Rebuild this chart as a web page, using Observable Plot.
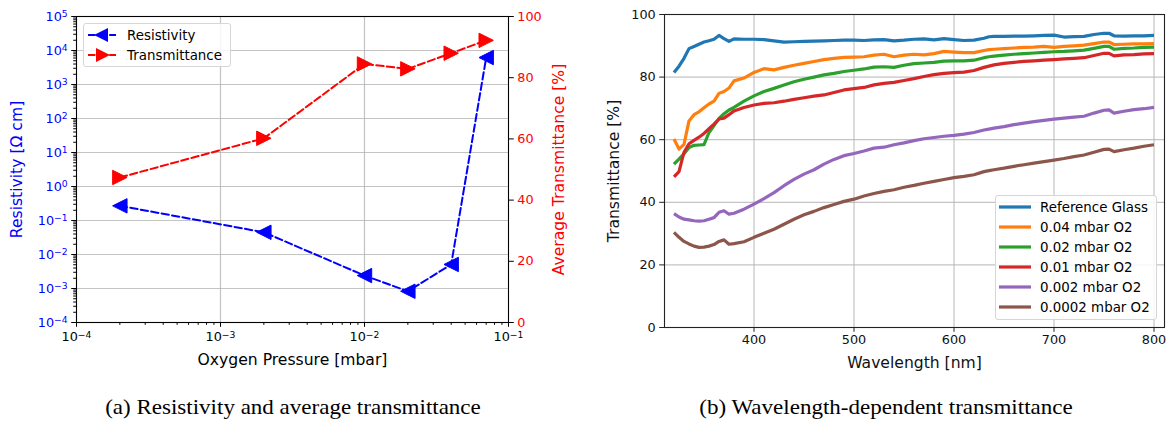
<!DOCTYPE html>
<html>
<head>
<meta charset="utf-8">
<script src="https://cdn.jsdelivr.net/npm/d3@7"></script>
<script src="https://cdn.jsdelivr.net/npm/@observablehq/plot@0.6"></script>
<style>
  html, body { margin: 0; padding: 0; background: #fff; }
  body { width: 1174px; height: 432px; overflow: hidden; font-family: "DejaVu Sans", sans-serif; }
  #root { position: relative; width: 1174px; height: 432px; }
  .layer { position: absolute; top: 0; }
  .layer svg { overflow: visible; }
  [aria-label="x-axis label"], [aria-label="y-axis label"] { font-size: 15.6px; }
  .legend {
    position: absolute; box-sizing: border-box;
    background: rgba(255,255,255,0.85); border: 1px solid #d6d6d6; border-radius: 3px;
    font-size: 13.4px; color: #000;
  }
  .legend .row { position: absolute; left: 0; height: 20px; display: flex; align-items: center; white-space: nowrap; }
  .legend svg { display: block; }
  .caption {
    position: absolute; top: 395px; transform: translateX(-50%) scaleX(1.07); transform-origin: 50% 50%;
    font-family: "Liberation Serif", "DejaVu Serif", serif; font-size: 21.5px; color: #000; white-space: nowrap;
  }
</style>
</head>
<body>
<div id="root"></div>
<script>
// ---- Panel (a): resistivity and average transmittance vs oxygen pressure ----
const pressure = [0.0002, 0.002, 0.01, 0.02, 0.04, 0.07];          // mbar
const resistivity = [0.27, 0.045, 0.0024, 0.00083, 0.0051, 6200];   // Ω cm
const avgTransmittance = [47.4, 60.2, 84.5, 82.9, 88.0, 92.2];      // %

const xDecades = [1e-4, 1e-3, 1e-2, 1e-1];
const yDecades = [1e-4, 1e-3, 1e-2, 1e-1, 1e0, 1e1, 1e2, 1e3, 1e4, 1e5];
const rightTicks = [0, 20, 40, 60, 80, 100];

// ---- Panel (b): wavelength-dependent transmittance ----
const wavelength = [320, 325, 330, 335, 340, 345, 350, 355, 360, 365, 370, 375, 380, 390, 400,
  410, 420, 430, 440, 450, 460, 470, 480, 490, 500, 510, 520, 530, 540, 550, 560, 570, 580, 590,
  600, 610, 620, 630, 635, 640, 650, 660, 670, 680, 690, 700, 710, 720, 730, 740, 750, 755, 760,
  770, 780, 790, 800];
const referenceGlass = [81.5, 83.5, 86.0, 89.1, 89.8, 90.5, 91.2, 91.6, 92.1, 93.3, 92.3, 91.4, 92.2, 92.1, 92.1,
  92.0, 91.6, 91.2, 91.3, 91.4, 91.5, 91.6, 91.7, 91.8, 91.8, 91.7, 91.9, 92.0, 91.6, 91.8, 92.1, 92.2, 91.9, 92.3,
  92.0, 91.7, 91.8, 92.4, 92.9, 93.0, 93.0, 93.1, 93.1, 93.2, 93.3, 93.4, 92.8, 92.9, 93.0, 93.6, 94.0, 94.0, 93.2,
  93.1, 93.2, 93.2, 93.3];
const o2_004 = [60.2, 57.0, 58.5, 66.0, 68.0, 68.9, 70.2, 71.4, 72.3, 74.8, 75.4, 76.5, 78.8, 79.7, 81.5,
  82.7, 82.3, 83.1, 83.8, 84.4, 85.0, 85.6, 86.0, 86.3, 86.4, 86.5, 87.0, 87.3, 86.5, 87.0, 87.3, 87.1, 87.5, 88.2,
  88.0, 87.8, 87.8, 88.5, 88.8, 88.9, 89.1, 89.3, 89.5, 89.6, 89.8, 89.5, 89.8, 90.0, 90.2, 90.7, 91.2, 91.2, 90.4,
  90.5, 90.6, 90.6, 90.7];
const o2_002 = [52.2, 53.8, 55.5, 57.5, 58.2, 58.3, 58.4, 62.3, 64.5, 66.8, 68.3, 69.5, 70.3, 72.3, 74.0,
  75.4, 76.4, 77.5, 78.5, 79.3, 80.0, 80.7, 81.2, 81.8, 82.2, 82.6, 83.2, 83.3, 83.1, 83.8, 84.3, 84.5, 84.7, 85.1,
  85.2, 85.2, 85.4, 86.2, 86.5, 86.7, 87.0, 87.3, 87.5, 87.7, 87.9, 88.1, 88.2, 88.4, 88.6, 89.2, 89.8, 89.8, 88.9,
  89.2, 89.3, 89.5, 89.6];
const o2_001 = [48.1, 49.8, 56.0, 58.7, 59.8, 60.8, 62.0, 63.5, 65.0, 66.6, 66.9, 68.0, 69.2, 70.3, 71.1,
  71.6, 71.8, 72.3, 72.9, 73.4, 73.9, 74.3, 75.1, 75.9, 76.3, 76.7, 77.5, 78.0, 78.3, 78.9, 79.5, 80.2, 80.8, 81.2,
  81.4, 81.6, 82.1, 83.1, 83.5, 83.9, 84.4, 84.7, 85.0, 85.2, 85.4, 85.6, 85.8, 86.0, 86.2, 86.9, 87.6, 87.6, 86.8,
  87.1, 87.2, 87.4, 87.5];
const o2_0002 = [36.4, 35.3, 34.6, 34.4, 34.1, 34.0, 34.1, 34.6, 35.1, 36.8, 37.3, 36.2, 36.5, 37.8, 39.4,
  41.2, 43.1, 45.3, 47.3, 49.0, 50.4, 52.2, 53.7, 54.9, 55.6, 56.4, 57.3, 57.6, 58.4, 59.0, 59.7, 60.3, 60.7, 61.1,
  61.4, 61.8, 62.3, 63.1, 63.4, 63.7, 64.2, 64.8, 65.3, 65.8, 66.2, 66.6, 66.9, 67.2, 67.5, 68.5, 69.4, 69.5, 68.5,
  69.1, 69.6, 69.9, 70.3];
const o2_00002 = [30.4, 28.8, 27.5, 26.7, 26.0, 25.6, 25.7, 26.0, 26.5, 27.5, 28.0, 26.6, 26.8, 27.4, 28.8,
  30.1, 31.4, 33.0, 34.6, 36.0, 37.1, 38.3, 39.3, 40.3, 41.0, 42.0, 42.8, 43.5, 44.0, 44.8, 45.4, 46.1, 46.7, 47.3,
  47.9, 48.3, 48.8, 49.8, 50.1, 50.4, 50.9, 51.5, 52.0, 52.5, 53.0, 53.5, 54.0, 54.6, 55.1, 56.0, 56.9, 57.0, 56.2,
  56.8, 57.3, 57.9, 58.4];

const seriesNames = ["Reference Glass", "0.04 mbar O2", "0.02 mbar O2", "0.01 mbar O2", "0.002 mbar O2", "0.0002 mbar O2"];
const seriesValues = [referenceGlass, o2_004, o2_002, o2_001, o2_0002, o2_00002];
const seriesColors = ["#1f77b4", "#ff7f0e", "#2ca02c", "#d62728", "#9467bd", "#8c564b"];
const wavelengthTicks = [400, 500, 600, 700, 800];
const transmittanceTicks = [0, 20, 40, 60, 80, 100];

// ---- helpers ----
const SUP = {"-": "\u207B", "0": "\u2070", "1": "\u00B9", "2": "\u00B2", "3": "\u00B3", "4": "\u2074",
  "5": "\u2075", "6": "\u2076", "7": "\u2077", "8": "\u2078", "9": "\u2079"};
const UNSUP = Object.fromEntries(Object.entries(SUP).map(([k, v]) => [v, k === "-" ? "\u2212" : k]));
const pow10 = d => "10" + String(Math.round(Math.log10(d))).replace(/./g, c => SUP[c]);
const minorTicks = decades => decades.slice(0, -1).flatMap(d => d3.range(2, 10).map(m => m * d));

// Render "10ⁿ" tick labels with a raised, smaller exponent
function raiseExponents(svg) {
  d3.select(svg).selectAll('g[aria-label$="tick label"] text').each(function () {
    const s = this.textContent;
    if (!s.startsWith("10") || s.length <= 2) return;
    const exp = [...s.slice(2)].map(c => UNSUP[c] ?? c).join("");
    const t = d3.select(this);
    t.text("10");
    t.append("tspan").attr("dy", "-0.4em").attr("font-size", "0.72em").text(exp);
  });
}

// Triangle markers shaped like matplotlib's "<" and ">" (bounding box centred on the point)
const triangleLeft = {draw(ctx, size) {
  const s = Math.sqrt(size / Math.PI);
  ctx.moveTo(-s, 0); ctx.lineTo(s, -s); ctx.lineTo(s, s); ctx.closePath();
}};
const triangleRight = {draw(ctx, size) {
  const s = Math.sqrt(size / Math.PI);
  ctx.moveTo(s, 0); ctx.lineTo(-s, -s); ctx.lineTo(-s, s); ctx.closePath();
}};

const root = document.getElementById("root");
function place(node, left) {
  const wrap = document.createElement("div");
  wrap.className = "layer";
  wrap.style.left = left + "px";
  wrap.appendChild(node);
  root.appendChild(wrap);
}

const FONT = "DejaVu Sans";
const GRID = {stroke: "#b0b0b0", strokeOpacity: 0.75, strokeWidth: 1.2};

// Panel (a) geometry (shared by both overlaid plots)
const A = {width: 590, height: 375, marginLeft: 76, marginRight: 82, marginTop: 16, marginBottom: 53};
const resData = pressure.map((p, i) => ({p, v: resistivity[i]}));
const trData = pressure.map((p, i) => ({p, v: avgTransmittance[i]}));

const plotA1 = Plot.plot({
  ...A,
  style: {background: "transparent", fontFamily: FONT, fontSize: "12.8px"},
  x: {type: "log", domain: [1e-4, 1e-1]},
  y: {type: "log", domain: [1e-4, 1e5]},
  marks: [
    Plot.gridX(xDecades.slice(1, -1), GRID),
    Plot.gridY(yDecades.slice(1, -1), GRID),
    Plot.axisX(minorTicks(xDecades), {tickSize: 2.8, tickFormat: () => "", label: null}),
    Plot.axisX(xDecades, {tickSize: 4.8, tickPadding: 5, tickFormat: pow10, stroke: "black", fill: "black",
      label: "Oxygen Pressure [mbar]", labelAnchor: "center", labelArrow: "none", labelOffset: 42}),
    Plot.axisY(minorTicks(yDecades), {tickSize: 2.8, tickFormat: () => "", label: null}),
    Plot.axisY(yDecades, {tickSize: 4.8, tickPadding: 4, tickFormat: pow10, stroke: "black", fill: "blue",
      label: "Resistivity [Ω cm]", labelAnchor: "center", labelArrow: "none", labelOffset: 66}),
    Plot.line(resData, {x: "p", y: "v", stroke: "blue", strokeWidth: 2, strokeDasharray: "7.4,3.2"}),
    Plot.dot(resData, {x: "p", y: "v", symbol: triangleLeft, r: 7.2, fill: "blue", stroke: "blue", strokeWidth: 1}),
    Plot.frame({stroke: "black", strokeWidth: 1.1})
  ]
});
raiseExponents(plotA1);

const plotA2 = Plot.plot({
  ...A,
  style: {background: "transparent", fontFamily: FONT, fontSize: "12.8px"},
  x: {type: "log", domain: [1e-4, 1e-1], axis: null},
  y: {domain: [0, 100]},
  marks: [
    Plot.axisY(rightTicks, {anchor: "right", tickSize: 4.8, tickPadding: 4, stroke: "black", fill: "red",
      label: "Average Transmittance [%]", labelAnchor: "center", labelArrow: "none", labelOffset: 55}),
    Plot.line(trData, {x: "p", y: "v", stroke: "red", strokeWidth: 2, strokeDasharray: "7.4,3.2"}),
    Plot.dot(trData, {x: "p", y: "v", symbol: triangleRight, r: 7.2, fill: "red", stroke: "red", strokeWidth: 1})
  ]
});

place(plotA1, 0);
place(plotA2, 0);

// Panel (b)
const spectra = seriesNames.flatMap((name, k) =>
  wavelength.map((w, i) => ({name, w, t: seriesValues[k][i]})));

const plotB = Plot.plot({
  width: 584, height: 375, marginLeft: 74, marginRight: 10, marginTop: 14, marginBottom: 48,
  style: {background: "transparent", fontFamily: FONT, fontSize: "12.8px"},
  x: {domain: [310.5, 810.5]},
  y: {domain: [0, 100]},
  color: {domain: seriesNames, range: seriesColors},
  marks: [
    Plot.gridX(wavelengthTicks, GRID),
    Plot.gridY(transmittanceTicks.slice(1, -1), GRID),
    Plot.axisX(wavelengthTicks, {tickSize: 4.8, tickPadding: 3, stroke: "#222", fill: "#111",
      label: "Wavelength [nm]", labelAnchor: "center", labelArrow: "none", labelOffset: 40}),
    Plot.axisY(transmittanceTicks, {tickSize: 4.8, tickPadding: 4, stroke: "#222", fill: "#111",
      label: "Transmittance [%]", labelAnchor: "center", labelArrow: "none", labelOffset: 57}),
    Plot.line(spectra, {x: "w", y: "t", z: "name", stroke: "name", strokeWidth: 3.2,
      strokeLinejoin: "round", strokeLinecap: "butt"}),
    Plot.frame({stroke: "#222", strokeWidth: 1.1})
  ]
});
place(plotB, 590);

// ---- Legends ----
function legend(box, entries, swatch) {
  const div = document.createElement("div");
  div.className = "legend";
  Object.assign(div.style, {left: box.left + "px", top: box.top + "px", width: box.width + "px", height: box.height + "px"});
  entries.forEach((e, i) => {
    const row = document.createElement("div");
    row.className = "row";
    row.style.top = (box.pad + i * 20) + "px";
    row.style.left = box.inset + "px";
    row.appendChild(swatch(e));
    const label = document.createElement("span");
    label.textContent = e.label;
    label.style.marginLeft = box.gap + "px";
    row.appendChild(label);
    div.appendChild(row);
  });
  root.appendChild(div);
}

const markerPath = {left: "M6,10 L20,3 L20,17 Z", right: "M22,10 L8,3 L8,17 Z"};
legend({left: 83, top: 23, width: 148, height: 44, pad: 1, inset: 4, gap: 11},
  [{label: "Resistivity", color: "blue", dir: "left"}, {label: "Transmittance", color: "red", dir: "right"}],
  e => {
    const svg = d3.create("svg").attr("width", 28).attr("height", 20);
    svg.append("line").attr("x1", 0).attr("x2", 28).attr("y1", 10).attr("y2", 10)
      .attr("stroke", e.color).attr("stroke-width", 2).attr("stroke-dasharray", "7.4,3.2");
    svg.append("path").attr("d", markerPath[e.dir]).attr("fill", e.color);
    return svg.node();
  });

legend({left: 995, top: 195, width: 162, height: 125, pad: 1, inset: 3, gap: 9},
  seriesNames.map((n, i) => ({label: n, color: seriesColors[i]})),
  e => {
    const svg = d3.create("svg").attr("width", 32).attr("height", 20);
    svg.append("line").attr("x1", 0).attr("x2", 32).attr("y1", 10).attr("y2", 10)
      .attr("stroke", e.color).attr("stroke-width", 3.2);
    return svg.node();
  });

// ---- Sub-figure captions ----
[["(a) Resistivity and average transmittance", 293], ["(b) Wavelength-dependent transmittance", 886]]
  .forEach(([text, cx]) => {
    const c = document.createElement("div");
    c.className = "caption";
    c.style.left = cx + "px";
    c.textContent = text;
    root.appendChild(c);
  });
</script>
</body>
</html>
